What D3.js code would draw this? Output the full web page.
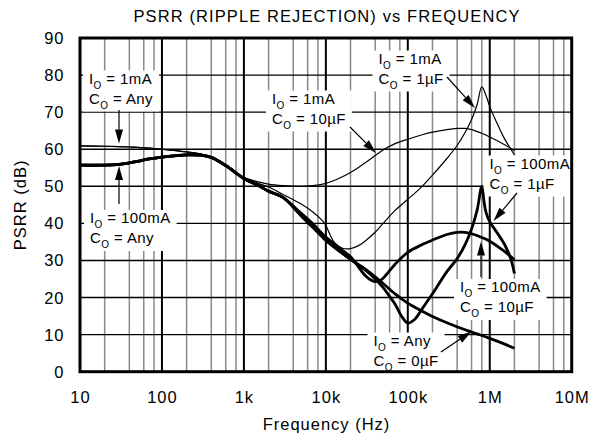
<!DOCTYPE html>
<html>
<head>
<meta charset="utf-8">
<script src="https://cdn.jsdelivr.net/npm/d3@7"></script>
<style>
body { margin: 0; background: #fff; }
text { font-family: "Liberation Sans", Arial, Helvetica, sans-serif; fill: #000; }
</style>
</head>
<body>
<div id="chart"></div>
<script>
// ---- data (frequency in Hz, PSRR in dB) ----
var xTickValues = [10, 100, 1e3, 1e4, 1e5, 1e6, 1e7];
var xTickLabels = ["10", "100", "1k", "10k", "100k", "1M", "10M"];
var yTickValues = [0, 10, 20, 30, 40, 50, 60, 70, 80, 90];

// below 1kHz only the load current matters (Co = Any)
var freqLow = [10, 20, 30, 40, 50, 70, 100, 150, 200, 300, 400, 600, 1000];
var psrrLow1mA = [60.9, 60.8, 60.7, 60.6, 60.5, 60.3, 60.0, 59.6, 59.3, 58.7, 57.9, 55.8, 52.4];
var psrrLow100mA = [55.7, 55.7, 55.9, 56.3, 56.7, 57.4, 57.9, 58.3, 58.5, 58.4, 57.8, 55.6, 52.1];

// Io = 1mA, Co = 10uF
var freq1mA10u = [1500, 2000, 3000, 5000, 7000, 1e4, 1.5e4, 2e4, 3e4, 5e4, 7e4, 1e5, 1.5e5, 2e5, 3e5, 4e5, 5e5, 6e5, 8e5, 1e6, 1.5e6, 2e6];
var psrr1mA10u = [51.2, 50.6, 50.2, 50.0, 50.2, 50.8, 52.3, 53.7, 56.3, 59.8, 61.5, 62.7, 63.9, 64.6, 65.3, 65.6, 65.6, 65.3, 64.3, 63.3, 61.3, 59.6];

// Io = 1mA, Co = 1uF
var freq1mA1u = [1500, 2000, 3000, 5000, 7000, 9000, 1e4, 1.1e4, 1.3e4, 1.6e4, 2e4, 2.5e4, 3e4, 4e4, 5e4, 7e4, 1e5, 1.5e5, 2e5, 3e5, 4e5, 5e5, 6e5, 7e5, 8e5, 9e5, 1e6, 1.2e6, 1.5e6, 2e6];
var psrr1mA1u = [50.8, 49.8, 47.8, 45.2, 43.0, 40.8, 39.5, 37.4, 34.6, 33.3, 33.2, 34.0, 35.2, 37.6, 40.0, 43.5, 46.5, 50.0, 53.0, 57.5, 61.0, 64.5, 68.0, 72.0, 76.8, 74.5, 71.5, 67.5, 63.0, 58.5];

// Io = 100mA, Co = 10uF
var freq100mA10u = [1500, 2000, 3000, 5000, 7000, 1e4, 1.5e4, 2e4, 3e4, 3.5e4, 4e4, 4.5e4, 5e4, 7e4, 1e5, 1.5e5, 2e5, 3e5, 4e5, 5e5, 6e5, 8e5, 1e6, 1.5e6, 2e6];
var psrr100mA10u = [50.2, 48.7, 47.0, 42.7, 39.8, 36.3, 33.2, 31.0, 26.0, 24.8, 24.3, 24.5, 25.2, 29.0, 32.2, 34.3, 35.5, 37.0, 37.6, 37.6, 37.2, 36.2, 35.2, 32.5, 30.2];

// Io = 100mA, Co = 1uF
var freq100mA1u = [1500, 2000, 3000, 5000, 7000, 1e4, 1.5e4, 2e4, 3e4, 4e4, 5e4, 6e4, 7e4, 8.5e4, 1e5, 1.2e5, 1.5e5, 2e5, 3e5, 4e5, 5e5, 6e5, 7e5, 8e5, 8.5e5, 9e5, 1e6, 1.2e6, 1.5e6, 1.8e6, 2e6];
var psrr100mA1u = [50.2, 48.7, 47.0, 42.2, 39.0, 35.6, 32.5, 30.3, 27.5, 25.0, 22.7, 20.3, 18.2, 14.8, 13.1, 14.0, 17.0, 21.0, 27.0, 30.5, 34.3, 38.5, 43.5, 50.0, 46.0, 43.0, 40.5, 37.8, 34.5, 30.5, 26.5];

// Io = Any, Co = 0uF
var freqNoCap = [1500, 2000, 3000, 5000, 7000, 1e4, 1.5e4, 2e4, 3e4, 4e4, 5e4, 7e4, 1e5, 1.5e5, 2e5, 3e5, 5e5, 7e5, 1e6, 1.5e6, 2e6];
var psrrNoCap = [50.2, 48.7, 47.0, 42.0, 38.8, 35.4, 32.3, 30.3, 27.7, 25.6, 23.8, 21.0, 18.5, 16.3, 14.9, 13.2, 11.3, 10.2, 9.0, 7.5, 6.3];

// ---- layout ----
var width = 589, height = 441;
var plot = { left: 80, right: 571.7, top: 38, bottom: 371.7 };
var thin = 1.2, thick = 2.8;

var series = [
  { f: freqLow.concat(freq1mA10u), v: psrrLow1mA.concat(psrr1mA10u), w: thin },
  { f: freqLow.concat(freq1mA1u), v: psrrLow1mA.concat(psrr1mA1u), w: thin },
  { f: freqLow.concat(freq100mA10u), v: psrrLow100mA.concat(psrr100mA10u), w: thick },
  { f: freqLow.concat(freq100mA1u), v: psrrLow100mA.concat(psrr100mA1u), w: thick },
  { f: freqLow.concat(freqNoCap), v: psrrLow100mA.concat(psrrNoCap), w: thick }
];

// annotation labels: text origin, and arrow from -> to (pixels)
var notes = [
  { io: "1mA", co: "Any", x: 89, y: 83.5, arrow: [119, 110, 119, 143.5] },
  { io: "100mA", co: "Any", x: 90, y: 223, arrow: [119, 204, 119, 166] },
  { io: "1mA", co: "10\u00b5F", x: 272, y: 103.5, arrow: [350, 127, 376, 153] },
  { io: "1mA", co: "1\u00b5F", x: 378.5, y: 63.5, arrow: [447, 77, 475, 108] },
  { io: "100mA", co: "1\u00b5F", x: 489.5, y: 168.5, arrow: [517, 193, 493.5, 221] },
  { io: "100mA", co: "10\u00b5F", x: 460, y: 292, arrow: [481, 277, 481, 241.5] },
  { io: "Any", co: "0\u00b5F", x: 373.5, y: 345.5, arrow: [441, 352, 471.5, 331.5] }
];

var svg = d3.select("#chart").append("svg")
  .attr("width", width)
  .attr("height", height)
  .style("background", "#fff");

var x = d3.scaleLog().domain([10, 1e7]).range([plot.left, plot.right]);
var y = d3.scaleLinear().domain([0, 90]).range([plot.bottom, plot.top]);

// grid: minor verticals at 2,4,6,8 per decade
var minors = [];
for (var d = 10; d < 1e7; d *= 10) {
  [2, 4, 6, 8].forEach(function(m) { minors.push(d * m); });
}
var grid = svg.append("g");
grid.selectAll(".minor").data(minors).enter().append("line")
  .attr("x1", function(d) { return x(d); }).attr("x2", function(d) { return x(d); })
  .attr("y1", plot.top).attr("y2", plot.bottom)
  .attr("stroke", "#8a8a8a").attr("stroke-width", 1.5);
grid.selectAll(".hline").data(yTickValues.slice(1, -1)).enter().append("line")
  .attr("x1", plot.left).attr("x2", plot.right)
  .attr("y1", function(d) { return y(d); }).attr("y2", function(d) { return y(d); })
  .attr("stroke", "#000").attr("stroke-width", 1.4);
grid.selectAll(".decade").data(xTickValues.slice(1, -1)).enter().append("line")
  .attr("x1", function(d) { return x(d); }).attr("x2", function(d) { return x(d); })
  .attr("y1", plot.top).attr("y2", plot.bottom)
  .attr("stroke", "#000").attr("stroke-width", 2);

// annotation text with white boxes behind
var noteG = svg.append("g");
var boxG = noteG.append("g");
var textG = noteG.append("g");

function addLabel(tx, ty, letter, rest) {
  var t = textG.append("text")
    .attr("x", tx).attr("y", ty)
    .style("font-size", "15px")
    .style("letter-spacing", "0.4px");
  t.append("tspan").text(letter);
  t.append("tspan").text("O").style("font-size", "10px").attr("dy", 5);
  t.append("tspan").text(" = " + rest).attr("dy", -5);
  return t;
}

notes.forEach(function(n) {
  var t1 = addLabel(n.x, n.y, "I", n.io);
  var t2 = addLabel(n.x, n.y + 20, "C", n.co);
  var b1 = t1.node().getBBox(), b2 = t2.node().getBBox();
  var x0 = Math.min(b1.x, b2.x) - 6, x1 = Math.max(b1.x + b1.width, b2.x + b2.width) + 6;
  var y0 = b1.y + 1, y1 = b2.y + b2.height + 1;
  boxG.append("rect")
    .attr("x", x0).attr("y", y0)
    .attr("width", x1 - x0).attr("height", y1 - y0)
    .attr("fill", "#fff");
});

// curves
var line = d3.line()
  .x(function(d) { return x(d[0]); })
  .y(function(d) { return y(d[1]); })
  .curve(d3.curveCatmullRom.alpha(0.5));

svg.append("g").selectAll("path").data(series).enter().append("path")
  .attr("d", function(s) { return line(d3.zip(s.f, s.v)); })
  .attr("fill", "none")
  .attr("stroke", "#000")
  .attr("stroke-width", function(s) { return s.w; })
  .attr("stroke-linejoin", "round");

// arrows
var arrowG = svg.append("g");
notes.forEach(function(n) {
  var a = n.arrow;
  var dx = a[2] - a[0], dy = a[3] - a[1];
  var L = Math.sqrt(dx * dx + dy * dy), ux = dx / L, uy = dy / L;
  var hl = 14, hw = 4;
  var bx = a[2] - ux * hl, by = a[3] - uy * hl;
  arrowG.append("line")
    .attr("x1", a[0]).attr("y1", a[1]).attr("x2", bx).attr("y2", by)
    .attr("stroke", "#000").attr("stroke-width", 1.2);
  arrowG.append("path")
    .attr("d", "M" + a[2] + "," + a[3] +
      "L" + (bx - uy * hw) + "," + (by + ux * hw) +
      "L" + (bx + uy * hw) + "," + (by - ux * hw) + "Z")
    .attr("fill", "#000");
});

// frame
svg.append("rect")
  .attr("x", plot.left).attr("y", plot.top)
  .attr("width", plot.right - plot.left).attr("height", plot.bottom - plot.top)
  .attr("fill", "none").attr("stroke", "#000").attr("stroke-width", 3);

// tick labels
svg.append("g").selectAll("text").data(yTickValues).enter().append("text")
  .attr("x", 64.5)
  .attr("y", function(d) { return y(d) + 6; })
  .attr("text-anchor", "end")
  .style("font-size", "16.5px").style("letter-spacing", "1px")
  .text(function(d) { return d; });

svg.append("g").selectAll("text").data(xTickValues).enter().append("text")
  .attr("x", function(d) { return x(d) + 0.5; })
  .attr("y", 402.5)
  .attr("text-anchor", "middle")
  .style("font-size", "16.5px").style("letter-spacing", "1px")
  .text(function(d, i) { return xTickLabels[i]; });

// titles
svg.append("text")
  .attr("x", 327).attr("y", 21.5)
  .attr("text-anchor", "middle")
  .style("font-size", "16.5px").style("letter-spacing", "1.1px")
  .text("PSRR (RIPPLE REJECTION) vs FREQUENCY");

svg.append("text")
  .attr("x", 326.5).attr("y", 430)
  .attr("text-anchor", "middle")
  .style("font-size", "16.5px").style("letter-spacing", "1px")
  .text("Frequency (Hz)");

svg.append("text")
  .attr("transform", "translate(25.5," + ((plot.top + plot.bottom) / 2) + ") rotate(-90)")
  .attr("text-anchor", "middle")
  .style("font-size", "16.5px").style("letter-spacing", "1px")
  .text("PSRR (dB)");
</script>
</body>
</html>
